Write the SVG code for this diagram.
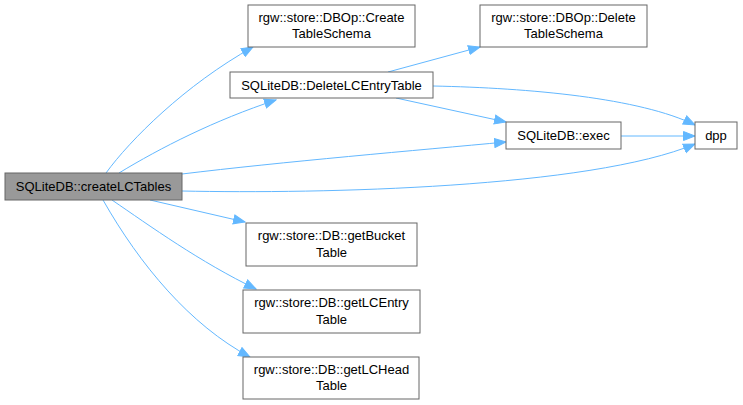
<svg xmlns="http://www.w3.org/2000/svg" width="743" height="405" viewBox="0 0 743 405">
<style>
.n rect{fill:#fff;stroke:#666;stroke-width:1}
.n.cur rect{fill:#999}
.n text{font-family:"Liberation Sans",Arial,sans-serif;font-size:13px;fill:#000;text-anchor:middle}
.e path{fill:none;stroke:#63B8FF;stroke-width:1}
</style>
<defs>
<marker id="a" markerUnits="userSpaceOnUse" markerWidth="13" markerHeight="11" refX="12" refY="5.5" orient="auto">
<path d="M0.5,1 L12,5.5 L0.5,10 Z" fill="#63B8FF" stroke="#63B8FF"/>
</marker>
</defs>
<rect width="743" height="405" fill="#fff"/>
<g id="edges" class="e">
<path marker-end="url(#a)" d="M106,173 C130,140 185,85 253,47"/>
<path marker-end="url(#a)" d="M119,173 C160,148 215,120 276,100"/>
<path marker-end="url(#a)" d="M182,174 C280,162 420,150 506,142"/>
<path marker-end="url(#a)" d="M182,191 C320,194 590,188 695,144"/>
<path marker-end="url(#a)" d="M150,200 L245,222"/>
<path marker-end="url(#a)" d="M112,200 C150,226 200,262 256,289"/>
<path marker-end="url(#a)" d="M103,200 C140,265 190,325 250,357"/>
<path marker-end="url(#a)" d="M388,72 L480,47"/>
<path marker-end="url(#a)" d="M433,86 C530,88 640,98 695,125"/>
<path marker-end="url(#a)" d="M396,98 L506,122"/>
<path marker-end="url(#a)" d="M621,136 L695,136"/>
</g>
<g id="createLCTables" class="n cur"><rect x="5" y="173" width="177" height="27"/><text x="93.5" y="191">SQLiteDB::createLCTables</text></g>
<g id="CreateTableSchema" class="n"><rect x="248" y="5" width="167" height="42"/><text x="331.5" y="22">rgw::store::DBOp::Create</text><text x="331.5" y="38">TableSchema</text></g>
<g id="DeleteLCEntryTable" class="n"><rect x="230" y="72" width="203" height="26"/><text x="331.5" y="90">SQLiteDB::DeleteLCEntryTable</text></g>
<g id="DeleteTableSchema" class="n"><rect x="480" y="5" width="167" height="42"/><text x="563.5" y="22">rgw::store::DBOp::Delete</text><text x="563.5" y="38">TableSchema</text></g>
<g id="exec" class="n"><rect x="506" y="122" width="115" height="27"/><text x="563.5" y="140">SQLiteDB::exec</text></g>
<g id="dpp" class="n"><rect x="695" y="122" width="42" height="27"/><text x="716" y="140">dpp</text></g>
<g id="getBucketTable" class="n"><rect x="246" y="223" width="171" height="43"/><text x="331.5" y="240">rgw::store::DB::getBucket</text><text x="331.5" y="257">Table</text></g>
<g id="getLCEntryTable" class="n"><rect x="243" y="290" width="177" height="43"/><text x="331.5" y="307">rgw::store::DB::getLCEntry</text><text x="331.5" y="324">Table</text></g>
<g id="getLCHeadTable" class="n"><rect x="243" y="357" width="176" height="42"/><text x="331.5" y="374">rgw::store::DB::getLCHead</text><text x="331.5" y="390">Table</text></g>
</svg>
